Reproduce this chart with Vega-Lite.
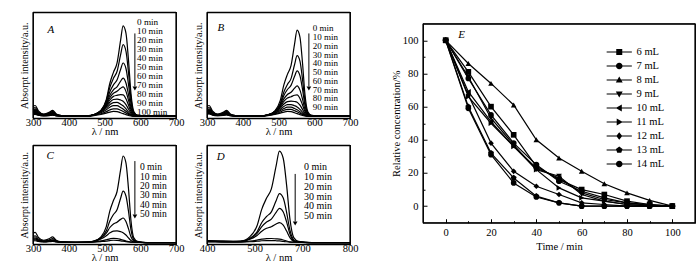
{
"$schema": "https://vega.github.io/schema/vega-lite/v6.json",
"background": "white",
"padding": {"left": 18, "top": 7, "right": 5, "bottom": 5},
"config": {
 "font": "Liberation Serif",
 "view": {"stroke": "black", "strokeWidth": 1.1},
 "axis": {"labelFont": "Liberation Serif", "titleFont": "Liberation Serif", "labelColor": "black", "titleColor": "black", "titleFontWeight": "normal", "tickColor": "black", "grid": false, "domain": false, "labelOverlap": false, "tickCount": 30},
 "legend": {"labelFont": "Liberation Serif", "labelColor": "black", "padding": 0},
 "text": {"font": "Liberation Serif", "color": "black"},
 "rule": {"color": "black", "strokeWidth": 1.1}
},
"datasets": {
"A": [
{"t":0,"w":300,"a":11},{"t":0,"w":306,"a":12},{"t":0,"w":315,"a":7},{"t":0,"w":330,"a":4},{"t":0,"w":345,"a":5.5},{"t":0,"w":355,"a":7.5},{"t":0,"w":365,"a":4},{"t":0,"w":380,"a":2.5},{"t":0,"w":420,"a":2},{"t":0,"w":450,"a":2.2},{"t":0,"w":470,"a":2.9},{"t":0,"w":490,"a":7.2},{"t":0,"w":505,"a":17.5},{"t":0,"w":515,"a":33},{"t":0,"w":525,"a":43.3},{"t":0,"w":535,"a":51.9},{"t":0,"w":545,"a":73.4},{"t":0,"w":552,"a":87.1},{"t":0,"w":560,"a":80.3},{"t":0,"w":567,"a":55.3},{"t":0,"w":574,"a":23.5},{"t":0,"w":582,"a":6.3},{"t":0,"w":592,"a":2.9},{"t":0,"w":620,"a":2},{"t":0,"w":700,"a":2},
{"t":10,"w":300,"a":9.2},{"t":10,"w":306,"a":10},{"t":10,"w":315,"a":6},{"t":10,"w":330,"a":3.6},{"t":10,"w":345,"a":4.8},{"t":10,"w":355,"a":6.4},{"t":10,"w":365,"a":3.6},{"t":10,"w":380,"a":2.4},{"t":10,"w":420,"a":2},{"t":10,"w":450,"a":2.2},{"t":10,"w":470,"a":3.1},{"t":10,"w":490,"a":7.3},{"t":10,"w":505,"a":16.4},{"t":10,"w":515,"a":29.2},{"t":10,"w":525,"a":37.7},{"t":10,"w":535,"a":44.1},{"t":10,"w":545,"a":59.7},{"t":10,"w":552,"a":69.4},{"t":10,"w":560,"a":63.3},{"t":10,"w":567,"a":43.5},{"t":10,"w":574,"a":18.7},{"t":10,"w":582,"a":5.3},{"t":10,"w":592,"a":2.7},{"t":10,"w":620,"a":2},{"t":10,"w":700,"a":2},
{"t":20,"w":300,"a":7.9},{"t":20,"w":306,"a":8.5},{"t":20,"w":315,"a":5.3},{"t":20,"w":330,"a":3.3},{"t":20,"w":345,"a":4.3},{"t":20,"w":355,"a":5.6},{"t":20,"w":365,"a":3.3},{"t":20,"w":380,"a":2.3},{"t":20,"w":420,"a":2},{"t":20,"w":450,"a":2.1},{"t":20,"w":470,"a":3.2},{"t":20,"w":490,"a":7.1},{"t":20,"w":505,"a":14.8},{"t":20,"w":515,"a":24.9},{"t":20,"w":525,"a":31.5},{"t":20,"w":535,"a":36},{"t":20,"w":545,"a":46},{"t":20,"w":552,"a":52.1},{"t":20,"w":560,"a":46.9},{"t":20,"w":567,"a":32.1},{"t":20,"w":574,"a":14.2},{"t":20,"w":582,"a":4.5},{"t":20,"w":592,"a":2.5},{"t":20,"w":620,"a":2},{"t":20,"w":700,"a":2},
{"t":30,"w":300,"a":7},{"t":30,"w":306,"a":7.5},{"t":30,"w":315,"a":4.8},{"t":30,"w":330,"a":3.1},{"t":30,"w":345,"a":3.9},{"t":30,"w":355,"a":5},{"t":30,"w":365,"a":3.1},{"t":30,"w":380,"a":2.3},{"t":30,"w":420,"a":2},{"t":30,"w":450,"a":2.1},{"t":30,"w":470,"a":3.3},{"t":30,"w":490,"a":7.2},{"t":30,"w":505,"a":13.8},{"t":30,"w":515,"a":21.7},{"t":30,"w":525,"a":26.8},{"t":30,"w":535,"a":29.6},{"t":30,"w":545,"a":34.9},{"t":30,"w":552,"a":37.9},{"t":30,"w":560,"a":33.2},{"t":30,"w":567,"a":22.6},{"t":30,"w":574,"a":10.3},{"t":30,"w":582,"a":3.7},{"t":30,"w":592,"a":2.3},{"t":30,"w":620,"a":2},{"t":30,"w":700,"a":2},
{"t":40,"w":300,"a":6.1},{"t":40,"w":306,"a":6.5},{"t":40,"w":315,"a":4.3},{"t":40,"w":330,"a":2.9},{"t":40,"w":345,"a":3.6},{"t":40,"w":355,"a":4.5},{"t":40,"w":365,"a":2.9},{"t":40,"w":380,"a":2.2},{"t":40,"w":420,"a":2},{"t":40,"w":450,"a":2.1},{"t":40,"w":470,"a":3.3},{"t":40,"w":490,"a":6.9},{"t":40,"w":505,"a":12.8},{"t":40,"w":515,"a":19.3},{"t":40,"w":525,"a":23.5},{"t":40,"w":535,"a":25.4},{"t":40,"w":545,"a":28.2},{"t":40,"w":552,"a":29.5},{"t":40,"w":560,"a":25.3},{"t":40,"w":567,"a":17.1},{"t":40,"w":574,"a":8.1},{"t":40,"w":582,"a":3.2},{"t":40,"w":592,"a":2.2},{"t":40,"w":620,"a":2},{"t":40,"w":700,"a":2},
{"t":50,"w":300,"a":5.6},{"t":50,"w":306,"a":6},{"t":50,"w":315,"a":4},{"t":50,"w":330,"a":2.8},{"t":50,"w":345,"a":3.4},{"t":50,"w":355,"a":4.2},{"t":50,"w":365,"a":2.8},{"t":50,"w":380,"a":2.2},{"t":50,"w":420,"a":2},{"t":50,"w":450,"a":2.1},{"t":50,"w":470,"a":3.3},{"t":50,"w":490,"a":6.8},{"t":50,"w":505,"a":11.9},{"t":50,"w":515,"a":17.2},{"t":50,"w":525,"a":20.6},{"t":50,"w":535,"a":21.6},{"t":50,"w":545,"a":22.2},{"t":50,"w":552,"a":22.1},{"t":50,"w":560,"a":18.3},{"t":50,"w":567,"a":12.4},{"t":50,"w":574,"a":6.1},{"t":50,"w":582,"a":2.8},{"t":50,"w":592,"a":2.1},{"t":50,"w":620,"a":2},{"t":50,"w":700,"a":2},
{"t":60,"w":300,"a":5.2},{"t":60,"w":306,"a":5.5},{"t":60,"w":315,"a":3.8},{"t":60,"w":330,"a":2.7},{"t":60,"w":345,"a":3.2},{"t":60,"w":355,"a":3.9},{"t":60,"w":365,"a":2.7},{"t":60,"w":380,"a":2.2},{"t":60,"w":420,"a":2},{"t":60,"w":450,"a":2.1},{"t":60,"w":470,"a":3.3},{"t":60,"w":490,"a":6.5},{"t":60,"w":505,"a":10.8},{"t":60,"w":515,"a":15.1},{"t":60,"w":525,"a":17.7},{"t":60,"w":535,"a":18.1},{"t":60,"w":545,"a":17.2},{"t":60,"w":552,"a":16.1},{"t":60,"w":560,"a":12.9},{"t":60,"w":567,"a":8.7},{"t":60,"w":574,"a":4.6},{"t":60,"w":582,"a":2.5},{"t":60,"w":592,"a":2.1},{"t":60,"w":620,"a":2},{"t":60,"w":700,"a":2},
{"t":70,"w":300,"a":4.7},{"t":70,"w":306,"a":5},{"t":70,"w":315,"a":3.5},{"t":70,"w":330,"a":2.6},{"t":70,"w":345,"a":3.1},{"t":70,"w":355,"a":3.7},{"t":70,"w":365,"a":2.6},{"t":70,"w":380,"a":2.2},{"t":70,"w":420,"a":2},{"t":70,"w":450,"a":2.1},{"t":70,"w":470,"a":3.1},{"t":70,"w":490,"a":5.8},{"t":70,"w":505,"a":9.5},{"t":70,"w":515,"a":12.8},{"t":70,"w":525,"a":14.8},{"t":70,"w":535,"a":14.9},{"t":70,"w":545,"a":13.2},{"t":70,"w":552,"a":11.7},{"t":70,"w":560,"a":8.9},{"t":70,"w":567,"a":6},{"t":70,"w":574,"a":3.6},{"t":70,"w":582,"a":2.3},{"t":70,"w":592,"a":2},{"t":70,"w":620,"a":2},{"t":70,"w":700,"a":2},
{"t":80,"w":300,"a":4.3},{"t":80,"w":306,"a":4.5},{"t":80,"w":315,"a":3.3},{"t":80,"w":330,"a":2.5},{"t":80,"w":345,"a":2.9},{"t":80,"w":355,"a":3.4},{"t":80,"w":365,"a":2.5},{"t":80,"w":380,"a":2.1},{"t":80,"w":420,"a":2},{"t":80,"w":450,"a":2},{"t":80,"w":470,"a":2.9},{"t":80,"w":490,"a":5.1},{"t":80,"w":505,"a":8},{"t":80,"w":515,"a":10.4},{"t":80,"w":525,"a":11.9},{"t":80,"w":535,"a":11.8},{"t":80,"w":545,"a":10.2},{"t":80,"w":552,"a":8.7},{"t":80,"w":560,"a":6.5},{"t":80,"w":567,"a":4.5},{"t":80,"w":574,"a":3},{"t":80,"w":582,"a":2.1},{"t":80,"w":592,"a":2},{"t":80,"w":620,"a":2},{"t":80,"w":700,"a":2},
{"t":90,"w":300,"a":3.8},{"t":90,"w":306,"a":4},{"t":90,"w":315,"a":3},{"t":90,"w":330,"a":2.4},{"t":90,"w":345,"a":2.7},{"t":90,"w":355,"a":3.1},{"t":90,"w":365,"a":2.4},{"t":90,"w":380,"a":2.1},{"t":90,"w":420,"a":2},{"t":90,"w":450,"a":2},{"t":90,"w":470,"a":2.7},{"t":90,"w":490,"a":4.2},{"t":90,"w":505,"a":6.2},{"t":90,"w":515,"a":7.9},{"t":90,"w":525,"a":8.9},{"t":90,"w":535,"a":8.8},{"t":90,"w":545,"a":7.5},{"t":90,"w":552,"a":6.4},{"t":90,"w":560,"a":4.9},{"t":90,"w":567,"a":3.5},{"t":90,"w":574,"a":2.6},{"t":90,"w":582,"a":2},{"t":90,"w":592,"a":2},{"t":90,"w":620,"a":2},{"t":90,"w":700,"a":2},
{"t":100,"w":300,"a":3.4},{"t":100,"w":306,"a":3.5},{"t":100,"w":315,"a":2.8},{"t":100,"w":330,"a":2.3},{"t":100,"w":345,"a":2.5},{"t":100,"w":355,"a":2.8},{"t":100,"w":365,"a":2.3},{"t":100,"w":380,"a":2.1},{"t":100,"w":420,"a":2},{"t":100,"w":450,"a":2},{"t":100,"w":470,"a":2.5},{"t":100,"w":490,"a":3.5},{"t":100,"w":505,"a":4.8},{"t":100,"w":515,"a":5.8},{"t":100,"w":525,"a":6.5},{"t":100,"w":535,"a":6.3},{"t":100,"w":545,"a":5.2},{"t":100,"w":552,"a":4.3},{"t":100,"w":560,"a":3.4},{"t":100,"w":567,"a":2.6},{"t":100,"w":574,"a":2.2},{"t":100,"w":582,"a":2},{"t":100,"w":592,"a":2},{"t":100,"w":620,"a":2},{"t":100,"w":700,"a":2}
],
"B": [
{"t":0,"w":300,"a":11},{"t":0,"w":306,"a":12},{"t":0,"w":315,"a":7},{"t":0,"w":330,"a":4},{"t":0,"w":345,"a":5.5},{"t":0,"w":355,"a":7.5},{"t":0,"w":365,"a":4},{"t":0,"w":380,"a":2.5},{"t":0,"w":420,"a":2},{"t":0,"w":450,"a":2.2},{"t":0,"w":470,"a":2.8},{"t":0,"w":490,"a":6.9},{"t":0,"w":505,"a":16.8},{"t":0,"w":515,"a":31.5},{"t":0,"w":525,"a":41.4},{"t":0,"w":535,"a":49.6},{"t":0,"w":545,"a":70.1},{"t":0,"w":552,"a":83.2},{"t":0,"w":560,"a":76.6},{"t":0,"w":567,"a":52.8},{"t":0,"w":574,"a":22.5},{"t":0,"w":582,"a":6.1},{"t":0,"w":592,"a":2.8},{"t":0,"w":620,"a":2},{"t":0,"w":700,"a":2},
{"t":10,"w":300,"a":9.2},{"t":10,"w":306,"a":10},{"t":10,"w":315,"a":6},{"t":10,"w":330,"a":3.6},{"t":10,"w":345,"a":4.8},{"t":10,"w":355,"a":6.4},{"t":10,"w":365,"a":3.6},{"t":10,"w":380,"a":2.4},{"t":10,"w":420,"a":2},{"t":10,"w":450,"a":2.2},{"t":10,"w":470,"a":2.9},{"t":10,"w":490,"a":6.4},{"t":10,"w":505,"a":14},{"t":10,"w":515,"a":24.8},{"t":10,"w":525,"a":31.9},{"t":10,"w":535,"a":37.4},{"t":10,"w":545,"a":50.7},{"t":10,"w":552,"a":59},{"t":10,"w":560,"a":53.9},{"t":10,"w":567,"a":37.1},{"t":10,"w":574,"a":16.2},{"t":10,"w":582,"a":4.8},{"t":10,"w":592,"a":2.6},{"t":10,"w":620,"a":2},{"t":10,"w":700,"a":2},
{"t":20,"w":300,"a":7.9},{"t":20,"w":306,"a":8.5},{"t":20,"w":315,"a":5.3},{"t":20,"w":330,"a":3.3},{"t":20,"w":345,"a":4.3},{"t":20,"w":355,"a":5.6},{"t":20,"w":365,"a":3.3},{"t":20,"w":380,"a":2.3},{"t":20,"w":420,"a":2},{"t":20,"w":450,"a":2.1},{"t":20,"w":470,"a":3},{"t":20,"w":490,"a":6.4},{"t":20,"w":505,"a":12.9},{"t":20,"w":515,"a":21.5},{"t":20,"w":525,"a":27.1},{"t":20,"w":535,"a":31},{"t":20,"w":545,"a":39.5},{"t":20,"w":552,"a":44.7},{"t":20,"w":560,"a":40.2},{"t":20,"w":567,"a":27.6},{"t":20,"w":574,"a":12.3},{"t":20,"w":582,"a":4.1},{"t":20,"w":592,"a":2.4},{"t":20,"w":620,"a":2},{"t":20,"w":700,"a":2},
{"t":30,"w":300,"a":7},{"t":30,"w":306,"a":7.5},{"t":30,"w":315,"a":4.8},{"t":30,"w":330,"a":3.1},{"t":30,"w":345,"a":3.9},{"t":30,"w":355,"a":5},{"t":30,"w":365,"a":3.1},{"t":30,"w":380,"a":2.3},{"t":30,"w":420,"a":2},{"t":30,"w":450,"a":2.1},{"t":30,"w":470,"a":3.1},{"t":30,"w":490,"a":6.4},{"t":30,"w":505,"a":11.9},{"t":30,"w":515,"a":18.3},{"t":30,"w":525,"a":22.4},{"t":30,"w":535,"a":24.5},{"t":30,"w":545,"a":28.4},{"t":30,"w":552,"a":30.5},{"t":30,"w":560,"a":26.5},{"t":30,"w":567,"a":18.2},{"t":30,"w":574,"a":8.5},{"t":30,"w":582,"a":3.3},{"t":30,"w":592,"a":2.2},{"t":30,"w":620,"a":2},{"t":30,"w":700,"a":2},
{"t":40,"w":300,"a":6.1},{"t":40,"w":306,"a":6.5},{"t":40,"w":315,"a":4.3},{"t":40,"w":330,"a":2.9},{"t":40,"w":345,"a":3.6},{"t":40,"w":355,"a":4.5},{"t":40,"w":365,"a":2.9},{"t":40,"w":380,"a":2.2},{"t":40,"w":420,"a":2},{"t":40,"w":450,"a":2.1},{"t":40,"w":470,"a":3.2},{"t":40,"w":490,"a":6.2},{"t":40,"w":505,"a":10.9},{"t":40,"w":515,"a":15.9},{"t":40,"w":525,"a":19.1},{"t":40,"w":535,"a":20.3},{"t":40,"w":545,"a":21.7},{"t":40,"w":552,"a":22.1},{"t":40,"w":560,"a":18.7},{"t":40,"w":567,"a":12.7},{"t":40,"w":574,"a":6.3},{"t":40,"w":582,"a":2.9},{"t":40,"w":592,"a":2.2},{"t":40,"w":620,"a":2},{"t":40,"w":700,"a":2},
{"t":50,"w":300,"a":5.6},{"t":50,"w":306,"a":6},{"t":50,"w":315,"a":4},{"t":50,"w":330,"a":2.8},{"t":50,"w":345,"a":3.4},{"t":50,"w":355,"a":4.2},{"t":50,"w":365,"a":2.8},{"t":50,"w":380,"a":2.2},{"t":50,"w":420,"a":2},{"t":50,"w":450,"a":2.1},{"t":50,"w":470,"a":3.1},{"t":50,"w":490,"a":5.8},{"t":50,"w":505,"a":9.6},{"t":50,"w":515,"a":13.4},{"t":50,"w":525,"a":15.7},{"t":50,"w":535,"a":16.2},{"t":50,"w":545,"a":15.8},{"t":50,"w":552,"a":15.1},{"t":50,"w":560,"a":12.3},{"t":50,"w":567,"a":8.4},{"t":50,"w":574,"a":4.5},{"t":50,"w":582,"a":2.5},{"t":50,"w":592,"a":2.1},{"t":50,"w":620,"a":2},{"t":50,"w":700,"a":2},
{"t":60,"w":300,"a":5.2},{"t":60,"w":306,"a":5.5},{"t":60,"w":315,"a":3.8},{"t":60,"w":330,"a":2.7},{"t":60,"w":345,"a":3.2},{"t":60,"w":355,"a":3.9},{"t":60,"w":365,"a":2.7},{"t":60,"w":380,"a":2.2},{"t":60,"w":420,"a":2},{"t":60,"w":450,"a":2.1},{"t":60,"w":470,"a":2.9},{"t":60,"w":490,"a":5.2},{"t":60,"w":505,"a":8.3},{"t":60,"w":515,"a":11.1},{"t":60,"w":525,"a":12.8},{"t":60,"w":535,"a":12.9},{"t":60,"w":545,"a":11.8},{"t":60,"w":552,"a":10.7},{"t":60,"w":560,"a":8.3},{"t":60,"w":567,"a":5.8},{"t":60,"w":574,"a":3.5},{"t":60,"w":582,"a":2.3},{"t":60,"w":592,"a":2},{"t":60,"w":620,"a":2},{"t":60,"w":700,"a":2},
{"t":70,"w":300,"a":4.7},{"t":70,"w":306,"a":5},{"t":70,"w":315,"a":3.5},{"t":70,"w":330,"a":2.6},{"t":70,"w":345,"a":3.1},{"t":70,"w":355,"a":3.7},{"t":70,"w":365,"a":2.6},{"t":70,"w":380,"a":2.2},{"t":70,"w":420,"a":2},{"t":70,"w":450,"a":2.1},{"t":70,"w":470,"a":2.8},{"t":70,"w":490,"a":4.6},{"t":70,"w":505,"a":7.1},{"t":70,"w":515,"a":9.1},{"t":70,"w":525,"a":10.4},{"t":70,"w":535,"a":10.4},{"t":70,"w":545,"a":9.1},{"t":70,"w":552,"a":7.9},{"t":70,"w":560,"a":6.1},{"t":70,"w":567,"a":4.2},{"t":70,"w":574,"a":2.9},{"t":70,"w":582,"a":2.1},{"t":70,"w":592,"a":2},{"t":70,"w":620,"a":2},{"t":70,"w":700,"a":2},
{"t":80,"w":300,"a":4.3},{"t":80,"w":306,"a":4.5},{"t":80,"w":315,"a":3.3},{"t":80,"w":330,"a":2.5},{"t":80,"w":345,"a":2.9},{"t":80,"w":355,"a":3.4},{"t":80,"w":365,"a":2.5},{"t":80,"w":380,"a":2.1},{"t":80,"w":420,"a":2},{"t":80,"w":450,"a":2},{"t":80,"w":470,"a":2.6},{"t":80,"w":490,"a":4.1},{"t":80,"w":505,"a":5.9},{"t":80,"w":515,"a":7.5},{"t":80,"w":525,"a":8.4},{"t":80,"w":535,"a":8.4},{"t":80,"w":545,"a":7.1},{"t":80,"w":552,"a":6.1},{"t":80,"w":560,"a":4.7},{"t":80,"w":567,"a":3.4},{"t":80,"w":574,"a":2.5},{"t":80,"w":582,"a":2},{"t":80,"w":592,"a":2},{"t":80,"w":620,"a":2},{"t":80,"w":700,"a":2},
{"t":90,"w":300,"a":3.8},{"t":90,"w":306,"a":4},{"t":90,"w":315,"a":3},{"t":90,"w":330,"a":2.4},{"t":90,"w":345,"a":2.7},{"t":90,"w":355,"a":3.1},{"t":90,"w":365,"a":2.4},{"t":90,"w":380,"a":2.1},{"t":90,"w":420,"a":2},{"t":90,"w":450,"a":2},{"t":90,"w":470,"a":2.5},{"t":90,"w":490,"a":3.5},{"t":90,"w":505,"a":4.8},{"t":90,"w":515,"a":5.8},{"t":90,"w":525,"a":6.5},{"t":90,"w":535,"a":6.3},{"t":90,"w":545,"a":5.2},{"t":90,"w":552,"a":4.3},{"t":90,"w":560,"a":3.4},{"t":90,"w":567,"a":2.6},{"t":90,"w":574,"a":2.2},{"t":90,"w":582,"a":2},{"t":90,"w":592,"a":2},{"t":90,"w":620,"a":2},{"t":90,"w":700,"a":2}
],
"C": [
{"t":0,"w":300,"a":11},{"t":0,"w":306,"a":12},{"t":0,"w":315,"a":7},{"t":0,"w":330,"a":4},{"t":0,"w":345,"a":5.5},{"t":0,"w":355,"a":7.5},{"t":0,"w":365,"a":4},{"t":0,"w":380,"a":2.5},{"t":0,"w":420,"a":2},{"t":0,"w":450,"a":2.2},{"t":0,"w":470,"a":2.9},{"t":0,"w":490,"a":7.3},{"t":0,"w":505,"a":17.8},{"t":0,"w":515,"a":33.7},{"t":0,"w":525,"a":44.2},{"t":0,"w":535,"a":53},{"t":0,"w":545,"a":75},{"t":0,"w":552,"a":89.1},{"t":0,"w":560,"a":82.1},{"t":0,"w":567,"a":56.6},{"t":0,"w":574,"a":24},{"t":0,"w":582,"a":6.4},{"t":0,"w":592,"a":2.9},{"t":0,"w":620,"a":1.6},{"t":0,"w":700,"a":1.5},
{"t":10,"w":300,"a":7.9},{"t":10,"w":306,"a":8.5},{"t":10,"w":315,"a":5.3},{"t":10,"w":330,"a":3.3},{"t":10,"w":345,"a":4.3},{"t":10,"w":355,"a":5.6},{"t":10,"w":365,"a":3.3},{"t":10,"w":380,"a":2.3},{"t":10,"w":420,"a":2},{"t":10,"w":450,"a":2.1},{"t":10,"w":470,"a":2.9},{"t":10,"w":490,"a":6.3},{"t":10,"w":505,"a":13.5},{"t":10,"w":515,"a":23.4},{"t":10,"w":525,"a":30},{"t":10,"w":535,"a":34.8},{"t":10,"w":545,"a":46.4},{"t":10,"w":552,"a":53.6},{"t":10,"w":560,"a":48.7},{"t":10,"w":567,"a":33.6},{"t":10,"w":574,"a":14.7},{"t":10,"w":582,"a":4.5},{"t":10,"w":592,"a":2.5},{"t":10,"w":620,"a":1.6},{"t":10,"w":700,"a":1.5},
{"t":20,"w":300,"a":6.1},{"t":20,"w":306,"a":6.5},{"t":20,"w":315,"a":4.3},{"t":20,"w":330,"a":2.9},{"t":20,"w":345,"a":3.6},{"t":20,"w":355,"a":4.5},{"t":20,"w":365,"a":2.9},{"t":20,"w":380,"a":2.2},{"t":20,"w":420,"a":2},{"t":20,"w":450,"a":2.1},{"t":20,"w":470,"a":3.1},{"t":20,"w":490,"a":6.2},{"t":20,"w":505,"a":11.2},{"t":20,"w":515,"a":16.9},{"t":20,"w":525,"a":20.5},{"t":20,"w":535,"a":22.2},{"t":20,"w":545,"a":25.1},{"t":20,"w":552,"a":26.5},{"t":20,"w":560,"a":22.9},{"t":20,"w":567,"a":15.7},{"t":20,"w":574,"a":7.5},{"t":20,"w":582,"a":3.1},{"t":20,"w":592,"a":2.2},{"t":20,"w":620,"a":1.6},{"t":20,"w":700,"a":1.5},
{"t":30,"w":300,"a":5.2},{"t":30,"w":306,"a":5.5},{"t":30,"w":315,"a":3.8},{"t":30,"w":330,"a":2.7},{"t":30,"w":345,"a":3.2},{"t":30,"w":355,"a":3.9},{"t":30,"w":365,"a":2.7},{"t":30,"w":380,"a":2.2},{"t":30,"w":420,"a":2},{"t":30,"w":450,"a":2.1},{"t":30,"w":470,"a":3},{"t":30,"w":490,"a":5.3},{"t":30,"w":505,"a":8.5},{"t":30,"w":515,"a":11.5},{"t":30,"w":525,"a":13.3},{"t":30,"w":535,"a":13.5},{"t":30,"w":545,"a":12.7},{"t":30,"w":552,"a":11.7},{"t":30,"w":560,"a":9.3},{"t":30,"w":567,"a":6.4},{"t":30,"w":574,"a":3.8},{"t":30,"w":582,"a":2.3},{"t":30,"w":592,"a":2},{"t":30,"w":620,"a":1.6},{"t":30,"w":700,"a":1.5},
{"t":40,"w":300,"a":4.3},{"t":40,"w":306,"a":4.5},{"t":40,"w":315,"a":3.3},{"t":40,"w":330,"a":2.5},{"t":40,"w":345,"a":2.9},{"t":40,"w":355,"a":3.4},{"t":40,"w":365,"a":2.5},{"t":40,"w":380,"a":2.1},{"t":40,"w":420,"a":2},{"t":40,"w":450,"a":2},{"t":40,"w":470,"a":2.4},{"t":40,"w":490,"a":3.3},{"t":40,"w":505,"a":4.5},{"t":40,"w":515,"a":5.4},{"t":40,"w":525,"a":6},{"t":40,"w":535,"a":5.8},{"t":40,"w":545,"a":4.9},{"t":40,"w":552,"a":4.1},{"t":40,"w":560,"a":3.2},{"t":40,"w":567,"a":2.6},{"t":40,"w":574,"a":2.2},{"t":40,"w":582,"a":2},{"t":40,"w":592,"a":2},{"t":40,"w":620,"a":1.6},{"t":40,"w":700,"a":1.5},
{"t":50,"w":300,"a":3.4},{"t":50,"w":306,"a":3.5},{"t":50,"w":315,"a":2.8},{"t":50,"w":330,"a":2.3},{"t":50,"w":345,"a":2.5},{"t":50,"w":355,"a":2.8},{"t":50,"w":365,"a":2.3},{"t":50,"w":380,"a":2.1},{"t":50,"w":420,"a":2},{"t":50,"w":450,"a":2},{"t":50,"w":470,"a":2.2},{"t":50,"w":490,"a":2.7},{"t":50,"w":505,"a":3.2},{"t":50,"w":515,"a":3.7},{"t":50,"w":525,"a":4},{"t":50,"w":535,"a":3.9},{"t":50,"w":545,"a":3.4},{"t":50,"w":552,"a":3},{"t":50,"w":560,"a":2.6},{"t":50,"w":567,"a":2.3},{"t":50,"w":574,"a":2.1},{"t":50,"w":582,"a":2},{"t":50,"w":592,"a":2},{"t":50,"w":620,"a":1.6},{"t":50,"w":700,"a":1.5}
],
"D": [
{"t":0,"w":400,"a":3.6},{"t":0,"w":430,"a":3.2},{"t":0,"w":455,"a":3},{"t":0,"w":470,"a":3},{"t":0,"w":490,"a":7.6},{"t":0,"w":505,"a":18.7},{"t":0,"w":515,"a":35.5},{"t":0,"w":525,"a":46.6},{"t":0,"w":535,"a":55.9},{"t":0,"w":545,"a":79.2},{"t":0,"w":552,"a":94.1},{"t":0,"w":560,"a":86.6},{"t":0,"w":567,"a":59.7},{"t":0,"w":574,"a":25.3},{"t":0,"w":582,"a":6.7},{"t":0,"w":592,"a":2.9},{"t":0,"w":620,"a":1.6},{"t":0,"w":700,"a":1.5},
{"t":10,"w":400,"a":3.4},{"t":10,"w":430,"a":3},{"t":10,"w":455,"a":2.8},{"t":10,"w":470,"a":2.8},{"t":10,"w":490,"a":5.9},{"t":10,"w":505,"a":12.5},{"t":10,"w":515,"a":21.9},{"t":10,"w":525,"a":28},{"t":10,"w":535,"a":32.7},{"t":10,"w":545,"a":44},{"t":10,"w":552,"a":51.1},{"t":10,"w":560,"a":46.6},{"t":10,"w":567,"a":32.2},{"t":10,"w":574,"a":14.2},{"t":10,"w":582,"a":4.4},{"t":10,"w":592,"a":2.5},{"t":10,"w":620,"a":1.6},{"t":10,"w":700,"a":1.5},
{"t":20,"w":400,"a":3.2},{"t":20,"w":430,"a":2.9},{"t":20,"w":455,"a":2.7},{"t":20,"w":470,"a":2.8},{"t":20,"w":490,"a":5.6},{"t":20,"w":505,"a":10.9},{"t":20,"w":515,"a":17.8},{"t":20,"w":525,"a":22.4},{"t":20,"w":535,"a":25.4},{"t":20,"w":545,"a":32.2},{"t":20,"w":552,"a":36.3},{"t":20,"w":560,"a":32.6},{"t":20,"w":567,"a":22.5},{"t":20,"w":574,"a":10.3},{"t":20,"w":582,"a":3.6},{"t":20,"w":592,"a":2.3},{"t":20,"w":620,"a":1.6},{"t":20,"w":700,"a":1.5},
{"t":30,"w":400,"a":3},{"t":30,"w":430,"a":2.8},{"t":30,"w":455,"a":2.6},{"t":30,"w":470,"a":2.8},{"t":30,"w":490,"a":5},{"t":30,"w":505,"a":8.8},{"t":30,"w":515,"a":13.2},{"t":30,"w":525,"a":16.1},{"t":30,"w":535,"a":17.7},{"t":30,"w":545,"a":20.4},{"t":30,"w":552,"a":21.9},{"t":30,"w":560,"a":19.3},{"t":30,"w":567,"a":13.3},{"t":30,"w":574,"a":6.6},{"t":30,"w":582,"a":2.9},{"t":30,"w":592,"a":2.2},{"t":30,"w":620,"a":1.6},{"t":30,"w":700,"a":1.5},
{"t":40,"w":400,"a":2.6},{"t":40,"w":430,"a":2.4},{"t":40,"w":455,"a":2.3},{"t":40,"w":470,"a":2.3},{"t":40,"w":490,"a":3.1},{"t":40,"w":505,"a":4.2},{"t":40,"w":515,"a":5.1},{"t":40,"w":525,"a":5.7},{"t":40,"w":535,"a":5.8},{"t":40,"w":545,"a":5.4},{"t":40,"w":552,"a":5.1},{"t":40,"w":560,"a":4.3},{"t":40,"w":567,"a":3.3},{"t":40,"w":574,"a":2.4},{"t":40,"w":582,"a":2.1},{"t":40,"w":592,"a":2},{"t":40,"w":620,"a":1.6},{"t":40,"w":700,"a":1.5},
{"t":50,"w":400,"a":2.4},{"t":50,"w":430,"a":2.2},{"t":50,"w":455,"a":2.1},{"t":50,"w":470,"a":2.2},{"t":50,"w":490,"a":2.5},{"t":50,"w":505,"a":3},{"t":50,"w":515,"a":3.5},{"t":50,"w":525,"a":3.7},{"t":50,"w":535,"a":3.7},{"t":50,"w":545,"a":3.5},{"t":50,"w":552,"a":3.3},{"t":50,"w":560,"a":2.9},{"t":50,"w":567,"a":2.5},{"t":50,"w":574,"a":2.2},{"t":50,"w":582,"a":2},{"t":50,"w":592,"a":2},{"t":50,"w":620,"a":1.6},{"t":50,"w":700,"a":1.5}
],
"LA": [{"t":0,"lab":"0 min"},{"t":10,"lab":"10 min"},{"t":20,"lab":"20 min"},{"t":30,"lab":"30 min"},{"t":40,"lab":"40 min"},{"t":50,"lab":"50 min"},{"t":60,"lab":"60 min"},{"t":70,"lab":"70 min"},{"t":80,"lab":"80 min"},{"t":90,"lab":"90 min"},{"t":100,"lab":"100 min"}],
"LB": [{"t":0,"lab":"0 min"},{"t":10,"lab":"10 min"},{"t":20,"lab":"20 min"},{"t":30,"lab":"30 min"},{"t":40,"lab":"40 min"},{"t":50,"lab":"50 min"},{"t":60,"lab":"60 min"},{"t":70,"lab":"70 min"},{"t":80,"lab":"80 min"},{"t":90,"lab":"90 min"}],
"LC": [{"t":0,"lab":"0 min"},{"t":10,"lab":"10 min"},{"t":20,"lab":"20 min"},{"t":30,"lab":"30 min"},{"t":40,"lab":"40 min"},{"t":50,"lab":"50 min"}],
"E": [
{"s":"6 mL","m":0,"c":100},{"s":"6 mL","m":10,"c":81},{"s":"6 mL","m":20,"c":60},{"s":"6 mL","m":30,"c":43},{"s":"6 mL","m":40,"c":24},{"s":"6 mL","m":50,"c":16},{"s":"6 mL","m":60,"c":10},{"s":"6 mL","m":70,"c":7},{"s":"6 mL","m":80,"c":3},{"s":"6 mL","m":90,"c":1},{"s":"6 mL","m":100,"c":0},
{"s":"7 mL","m":0,"c":100},{"s":"7 mL","m":10,"c":77},{"s":"7 mL","m":20,"c":55},{"s":"7 mL","m":30,"c":38},{"s":"7 mL","m":40,"c":25},{"s":"7 mL","m":50,"c":15},{"s":"7 mL","m":60,"c":9},{"s":"7 mL","m":70,"c":5},{"s":"7 mL","m":80,"c":2},{"s":"7 mL","m":90,"c":1},{"s":"7 mL","m":100,"c":0},
{"s":"8 mL","m":0,"c":100},{"s":"8 mL","m":10,"c":86},{"s":"8 mL","m":20,"c":74},{"s":"8 mL","m":30,"c":61},{"s":"8 mL","m":40,"c":40},{"s":"8 mL","m":50,"c":29},{"s":"8 mL","m":60,"c":21},{"s":"8 mL","m":70,"c":13.5},{"s":"8 mL","m":80,"c":8},{"s":"8 mL","m":90,"c":3.5},{"s":"8 mL","m":100,"c":0},
{"s":"9 mL","m":0,"c":100},{"s":"9 mL","m":10,"c":78},{"s":"9 mL","m":20,"c":53},{"s":"9 mL","m":30,"c":37},{"s":"9 mL","m":40,"c":22},{"s":"9 mL","m":50,"c":18},{"s":"9 mL","m":60,"c":7},{"s":"9 mL","m":70,"c":3},{"s":"9 mL","m":80,"c":1},{"s":"9 mL","m":90,"c":0.5},{"s":"9 mL","m":100,"c":0},
{"s":"10 mL","m":0,"c":100},{"s":"10 mL","m":10,"c":69},{"s":"10 mL","m":20,"c":51},{"s":"10 mL","m":30,"c":36},{"s":"10 mL","m":40,"c":23},{"s":"10 mL","m":50,"c":17},{"s":"10 mL","m":60,"c":8},{"s":"10 mL","m":70,"c":4},{"s":"10 mL","m":80,"c":2},{"s":"10 mL","m":90,"c":0.5},{"s":"10 mL","m":100,"c":0},
{"s":"11 mL","m":0,"c":100},{"s":"11 mL","m":10,"c":66},{"s":"11 mL","m":20,"c":50},{"s":"11 mL","m":30,"c":36},{"s":"11 mL","m":40,"c":22},{"s":"11 mL","m":50,"c":11},{"s":"11 mL","m":60,"c":5},{"s":"11 mL","m":70,"c":3},{"s":"11 mL","m":80,"c":1},{"s":"11 mL","m":90,"c":0},{"s":"11 mL","m":100,"c":0},
{"s":"12 mL","m":0,"c":100},{"s":"12 mL","m":10,"c":67},{"s":"12 mL","m":20,"c":38},{"s":"12 mL","m":30,"c":21},{"s":"12 mL","m":40,"c":12},{"s":"12 mL","m":50,"c":7},{"s":"12 mL","m":60,"c":2},{"s":"12 mL","m":70,"c":1},{"s":"12 mL","m":80,"c":0},{"s":"12 mL","m":90,"c":0},{"s":"12 mL","m":100,"c":0},
{"s":"13 mL","m":0,"c":100},{"s":"13 mL","m":10,"c":60},{"s":"13 mL","m":20,"c":32},{"s":"13 mL","m":30,"c":17},{"s":"13 mL","m":40,"c":6},{"s":"13 mL","m":50,"c":2},{"s":"13 mL","m":60,"c":0},{"s":"13 mL","m":70,"c":0},{"s":"13 mL","m":80,"c":0},{"s":"13 mL","m":90,"c":0},{"s":"13 mL","m":100,"c":0},
{"s":"14 mL","m":0,"c":100},{"s":"14 mL","m":10,"c":59},{"s":"14 mL","m":20,"c":31},{"s":"14 mL","m":30,"c":14},{"s":"14 mL","m":40,"c":5.5},{"s":"14 mL","m":50,"c":2},{"s":"14 mL","m":60,"c":0},{"s":"14 mL","m":70,"c":0},{"s":"14 mL","m":80,"c":0},{"s":"14 mL","m":90,"c":0},{"s":"14 mL","m":100,"c":0}
]
},
"hconcat": [
 {"vconcat": [
  {"hconcat": [
   {"width": 143, "height": 106,
    "layer": [
     {"layer": [
      {"data": {"name": "A"}, "mark": {"type": "line", "interpolate": "monotone", "strokeWidth": 1.2, "color": "black"},
       "encoding": {
        "x": {"field": "w", "type": "quantitative", "scale": {"domain": [300, 700], "nice": false}, "axis": {"values": [300, 400, 500, 600, 700], "tickCount": 30, "title": "λ / nm", "ticks": false, "labelFontSize": 10.5, "titleFontSize": 10.5, "labelPadding": -1, "titlePadding": -1, "labelFlush": false, "labelOverlap": false}},
        "y": {"field": "a", "type": "quantitative", "scale": {"domain": [0, 100], "nice": false}, "axis": {"labels": false, "ticks": false, "title": "Absorpt intensity/a.u.", "titleFontSize": 10, "titlePadding": 4}},
        "detail": {"field": "t", "type": "ordinal"}
       }},
      {"data": {"values": [{}]}, "mark": "rule", "encoding": {"x": {"datum": 300}, "x2": {"datum": 700}, "y": {"datum": 100}}},
      {"data": {"values": [{}]}, "mark": "rule", "encoding": {"x": {"datum": 300}, "x2": {"datum": 700}, "y": {"datum": 0}}},
      {"data": {"values": [{}]}, "mark": "rule", "encoding": {"x": {"datum": 300}, "y": {"datum": 0}, "y2": {"datum": 100}}},
      {"data": {"values": [{}]}, "mark": "rule", "encoding": {"x": {"datum": 700}, "y": {"datum": 0}, "y2": {"datum": 100}}},
      {"data": {"values": [{}]}, "mark": {"type": "rule", "strokeWidth": 1}, "encoding": {"x": {"datum": 585}, "y": {"datum": 80}, "y2": {"datum": 30}}},
      {"data": {"values": [{}]}, "mark": {"type": "point", "shape": "triangle-down", "filled": true, "color": "black", "size": 22, "opacity": 1}, "encoding": {"x": {"datum": 585}, "y": {"datum": 28}}},
      {"data": {"values": [{}]}, "mark": {"type": "text", "fontStyle": "italic", "fontSize": 11}, "encoding": {"x": {"datum": 350}, "y": {"datum": 83}, "text": {"value": "A"}}}
     ]},
     {"data": {"name": "LA"}, "mark": {"type": "text", "align": "left", "baseline": "middle", "fontSize": 9.2},
      "encoding": {"x": {"datum": 591}, "y": {"field": "t", "type": "quantitative", "scale": {"domain": [-11.1, 106.7], "reverse": true, "nice": false, "zero": false}, "axis": null}, "text": {"field": "lab"}}}
    ],
    "resolve": {"scale": {"y": "independent"}}},
   {"width": 143, "height": 106,
    "layer": [
     {"layer": [
      {"data": {"name": "B"}, "mark": {"type": "line", "interpolate": "monotone", "strokeWidth": 1.2, "color": "black"},
       "encoding": {
        "x": {"field": "w", "type": "quantitative", "scale": {"domain": [300, 700], "nice": false}, "axis": {"values": [300, 400, 500, 600, 700], "tickCount": 30, "title": "λ / nm", "ticks": false, "labelFontSize": 10.5, "titleFontSize": 10.5, "labelPadding": -1, "titlePadding": -1, "labelFlush": false, "labelOverlap": false}},
        "y": {"field": "a", "type": "quantitative", "scale": {"domain": [0, 100], "nice": false}, "axis": {"labels": false, "ticks": false, "title": "Absorpt intensity/a.u.", "titleFontSize": 10, "titlePadding": 4}},
        "detail": {"field": "t", "type": "ordinal"}
       }},
      {"data": {"values": [{}]}, "mark": "rule", "encoding": {"x": {"datum": 300}, "x2": {"datum": 700}, "y": {"datum": 100}}},
      {"data": {"values": [{}]}, "mark": "rule", "encoding": {"x": {"datum": 300}, "x2": {"datum": 700}, "y": {"datum": 0}}},
      {"data": {"values": [{}]}, "mark": "rule", "encoding": {"x": {"datum": 300}, "y": {"datum": 0}, "y2": {"datum": 100}}},
      {"data": {"values": [{}]}, "mark": "rule", "encoding": {"x": {"datum": 700}, "y": {"datum": 0}, "y2": {"datum": 100}}},
      {"data": {"values": [{}]}, "mark": {"type": "rule", "strokeWidth": 1}, "encoding": {"x": {"datum": 585}, "y": {"datum": 80}, "y2": {"datum": 30}}},
      {"data": {"values": [{}]}, "mark": {"type": "point", "shape": "triangle-down", "filled": true, "color": "black", "size": 22, "opacity": 1}, "encoding": {"x": {"datum": 585}, "y": {"datum": 28}}},
      {"data": {"values": [{}]}, "mark": {"type": "text", "fontStyle": "italic", "fontSize": 11}, "encoding": {"x": {"datum": 339}, "y": {"datum": 85}, "text": {"value": "B"}}}
     ]},
     {"data": {"name": "LB"}, "mark": {"type": "text", "align": "left", "baseline": "middle", "fontSize": 9},
      "encoding": {"x": {"datum": 596}, "y": {"field": "t", "type": "quantitative", "scale": {"domain": [-18.2, 102.6], "reverse": true, "nice": false, "zero": false}, "axis": null}, "text": {"field": "lab"}}}
    ],
    "resolve": {"scale": {"y": "independent"}}}
  ], "spacing": 31, "bounds": "flush"},
  {"hconcat": [
   {"width": 143, "height": 99,
    "layer": [
     {"layer": [
      {"data": {"name": "C"}, "mark": {"type": "line", "interpolate": "monotone", "strokeWidth": 1.2, "color": "black"},
       "encoding": {
        "x": {"field": "w", "type": "quantitative", "scale": {"domain": [300, 700], "nice": false}, "axis": {"values": [300, 400, 500, 600, 700], "tickCount": 30, "title": "λ / nm", "ticks": false, "labelFontSize": 10.5, "titleFontSize": 10.5, "labelPadding": -1, "titlePadding": -1, "labelFlush": false, "labelOverlap": false}},
        "y": {"field": "a", "type": "quantitative", "scale": {"domain": [0, 100], "nice": false}, "axis": {"labels": false, "ticks": false, "title": "Absorpt intensity/a.u.", "titleFontSize": 10, "titlePadding": 4}},
        "detail": {"field": "t", "type": "ordinal"}
       }},
      {"data": {"values": [{}]}, "mark": "rule", "encoding": {"x": {"datum": 300}, "x2": {"datum": 700}, "y": {"datum": 100}}},
      {"data": {"values": [{}]}, "mark": "rule", "encoding": {"x": {"datum": 300}, "x2": {"datum": 700}, "y": {"datum": 0}}},
      {"data": {"values": [{}]}, "mark": "rule", "encoding": {"x": {"datum": 300}, "y": {"datum": 0}, "y2": {"datum": 100}}},
      {"data": {"values": [{}]}, "mark": "rule", "encoding": {"x": {"datum": 700}, "y": {"datum": 0}, "y2": {"datum": 100}}},
      {"data": {"values": [{}]}, "mark": {"type": "rule", "strokeWidth": 1}, "encoding": {"x": {"datum": 585}, "y": {"datum": 84}, "y2": {"datum": 30}}},
      {"data": {"values": [{}]}, "mark": {"type": "point", "shape": "triangle-down", "filled": true, "color": "black", "size": 22, "opacity": 1}, "encoding": {"x": {"datum": 585}, "y": {"datum": 28}}},
      {"data": {"values": [{}]}, "mark": {"type": "text", "fontStyle": "italic", "fontSize": 11}, "encoding": {"x": {"datum": 348}, "y": {"datum": 89}, "text": {"value": "C"}}}
     ]},
     {"data": {"name": "LC"}, "mark": {"type": "text", "align": "left", "baseline": "middle", "fontSize": 9.6},
      "encoding": {"x": {"datum": 599}, "y": {"field": "t", "type": "quantitative", "scale": {"domain": [-23.4, 81.9], "reverse": true, "nice": false, "zero": false}, "axis": null}, "text": {"field": "lab"}}}
    ],
    "resolve": {"scale": {"y": "independent"}}},
   {"width": 143, "height": 99,
    "layer": [
     {"layer": [
      {"data": {"name": "D"}, "mark": {"type": "line", "interpolate": "monotone", "strokeWidth": 1.2, "color": "black"},
       "encoding": {
        "x": {"field": "w", "type": "quantitative", "scale": {"domain": [400, 700], "nice": false}, "axis": {"values": [400, 500, 600, 700], "tickCount": 30, "labelExpr": "datum.value >= 600 ? format(datum.value + 100, 'd') : datum.label", "title": "λ / nm", "ticks": false, "labelFontSize": 10.5, "titleFontSize": 10.5, "labelPadding": -1, "titlePadding": -1, "labelFlush": false, "labelOverlap": false}},
        "y": {"field": "a", "type": "quantitative", "scale": {"domain": [0, 100], "nice": false}, "axis": {"labels": false, "ticks": false, "title": "Absorpt intensity/a.u.", "titleFontSize": 10, "titlePadding": 4}},
        "detail": {"field": "t", "type": "ordinal"}
       }},
      {"data": {"values": [{}]}, "mark": "rule", "encoding": {"x": {"datum": 400}, "x2": {"datum": 700}, "y": {"datum": 100}}},
      {"data": {"values": [{}]}, "mark": "rule", "encoding": {"x": {"datum": 400}, "x2": {"datum": 700}, "y": {"datum": 0}}},
      {"data": {"values": [{}]}, "mark": "rule", "encoding": {"x": {"datum": 400}, "y": {"datum": 0}, "y2": {"datum": 100}}},
      {"data": {"values": [{}]}, "mark": "rule", "encoding": {"x": {"datum": 700}, "y": {"datum": 0}, "y2": {"datum": 100}}},
      {"data": {"values": [{}]}, "mark": {"type": "rule", "strokeWidth": 1}, "encoding": {"x": {"datum": 585}, "y": {"datum": 71}, "y2": {"datum": 23}}},
      {"data": {"values": [{}]}, "mark": {"type": "point", "shape": "triangle-down", "filled": true, "color": "black", "size": 22, "opacity": 1}, "encoding": {"x": {"datum": 585}, "y": {"datum": 21}}},
      {"data": {"values": [{}]}, "mark": {"type": "text", "fontStyle": "italic", "fontSize": 11}, "encoding": {"x": {"datum": 429}, "y": {"datum": 88}, "text": {"value": "D"}}}
     ]},
     {"data": {"name": "LC"}, "mark": {"type": "text", "align": "left", "baseline": "middle", "fontSize": 10},
      "encoding": {"x": {"datum": 603.5}, "y": {"field": "t", "type": "quantitative", "scale": {"domain": [-22.4, 78.6], "reverse": true, "nice": false, "zero": false}, "axis": null}, "text": {"field": "lab"}}}
    ],
    "resolve": {"scale": {"y": "independent"}}}
  ], "spacing": 31, "bounds": "flush"}
 ], "spacing": 5},
 {"width": 272, "height": 199,
  "title": {"text": " ", "fontSize": 10, "offset": 5},
  "layer": [
   {"data": {"name": "E"}, "mark": {"type": "line", "color": "black", "strokeWidth": 1.2},
    "encoding": {
     "x": {"field": "m", "type": "quantitative", "scale": {"domain": [-10, 110], "nice": false, "zero": false},
       "axis": {"values": [0, 10, 20, 30, 40, 50, 60, 70, 80, 90, 100], "tickCount": 30, "labelExpr": "datum.value % 20 == 0 ? datum.label : ''", "tickSize": {"condition": {"test": "datum.value % 20 == 0", "value": -4}, "value": -2}, "labelPadding": 9, "title": "Time / min", "titlePadding": 1, "labelFontSize": 10.5, "titleFontSize": 10.5, "labelFlush": false, "labelOverlap": false}},
     "y": {"field": "c", "type": "quantitative", "scale": {"domain": [-10, 110], "nice": false, "zero": false},
       "axis": {"values": [0, 10, 20, 30, 40, 50, 60, 70, 80, 90, 100], "tickCount": 30, "labelExpr": "datum.value % 20 == 0 ? datum.label : ''", "tickSize": {"condition": {"test": "datum.value % 20 == 0", "value": -4}, "value": -2}, "labelPadding": 9, "title": "Relative concentration/%", "titlePadding": 1, "labelFontSize": 10.5, "titleFontSize": 10.5, "labelFlush": false, "labelOverlap": false}},
     "detail": {"field": "s", "type": "nominal"}
    }},
   {"data": {"values": [{}]}, "mark": "rule", "encoding": {"x": {"datum": -10}, "x2": {"datum": 110}, "y": {"datum": 110}}},
   {"data": {"values": [{}]}, "mark": "rule", "encoding": {"x": {"datum": -10}, "x2": {"datum": 110}, "y": {"datum": -10}}},
   {"data": {"values": [{}]}, "mark": "rule", "encoding": {"x": {"datum": -10}, "y": {"datum": -10}, "y2": {"datum": 110}}},
   {"data": {"values": [{}]}, "mark": "rule", "encoding": {"x": {"datum": 110}, "y": {"datum": -10}, "y2": {"datum": 110}}},
   {"data": {"name": "E"}, "mark": {"type": "point", "filled": true, "color": "black", "opacity": 1, "size": 32},
    "encoding": {
     "x": {"field": "m", "type": "quantitative"},
     "y": {"field": "c", "type": "quantitative"},
     "shape": {"field": "s", "type": "nominal", "scale": {"domain": ["6 mL", "7 mL", "8 mL", "9 mL", "10 mL", "11 mL", "12 mL", "13 mL", "14 mL"], "range": ["square", "circle", "triangle-up", "triangle-down", "triangle-left", "triangle-right", "diamond", "M0,-1.1L1.05,-0.34L0.65,0.89L-0.65,0.89L-1.05,-0.34Z", "circle"]}, "legend": null}
    }},
   {"data": {"name": "E"}, "mark": {"type": "point", "filled": true, "color": "black", "opacity": 0, "size": 36},
    "encoding": {
     "x": {"field": "m", "type": "quantitative"},
     "y": {"field": "c", "type": "quantitative"},
     "shape": {"field": "s", "type": "nominal", "scale": {"domain": ["6 mL", "7 mL", "8 mL", "9 mL", "10 mL", "11 mL", "12 mL", "13 mL", "14 mL"], "range": [
       "M-4.2,-0.2L4.2,-0.2L4.2,0.2L-4.2,0.2ZM-1,-1L1,-1L1,1L-1,1Z",
       "M-4.2,-0.2L4.2,-0.2L4.2,0.2L-4.2,0.2ZM-1.1,0A1.1,1.1,0,1,1,1.1,0A1.1,1.1,0,1,1,-1.1,0Z",
       "M-4.2,-0.2L4.2,-0.2L4.2,0.2L-4.2,0.2ZM0,-1.2L1.15,0.85L-1.15,0.85Z",
       "M-4.2,-0.2L4.2,-0.2L4.2,0.2L-4.2,0.2ZM0,1.2L-1.15,-0.85L1.15,-0.85Z",
       "M-4.2,-0.2L4.2,-0.2L4.2,0.2L-4.2,0.2ZM-1.2,0L0.85,-1.15L0.85,1.15Z",
       "M-4.2,-0.2L4.2,-0.2L4.2,0.2L-4.2,0.2ZM1.2,0L-0.85,1.15L-0.85,-1.15Z",
       "M-4.2,-0.2L4.2,-0.2L4.2,0.2L-4.2,0.2ZM0,-1.25L1,0L0,1.25L-1,0Z",
       "M-4.2,-0.2L4.2,-0.2L4.2,0.2L-4.2,0.2ZM0,-1.15L1.1,-0.35L0.68,0.93L-0.68,0.93L-1.1,-0.35Z",
       "M-4.2,-0.2L4.2,-0.2L4.2,0.2L-4.2,0.2ZM-1.1,0A1.1,1.1,0,1,1,1.1,0A1.1,1.1,0,1,1,-1.1,0Z"
      ]},
      "legend": {"title": null, "orient": "none", "legendX": 191, "legendY": 23, "symbolSize": 36, "symbolStrokeWidth": 0, "symbolFillColor": "black", "labelOffset": 12, "labelFontSize": 10.5, "rowPadding": 3}}
    }},
   {"data": {"values": [{}]}, "mark": {"type": "text", "fontStyle": "italic", "fontSize": 11}, "encoding": {"x": {"datum": 7}, "y": {"datum": 103}, "text": {"value": "E"}}}
  ],
  "resolve": {"scale": {"shape": "independent"}}}
],
"spacing": 31, "center": true,
"resolve": {"scale": {"shape": "independent"}}
}
